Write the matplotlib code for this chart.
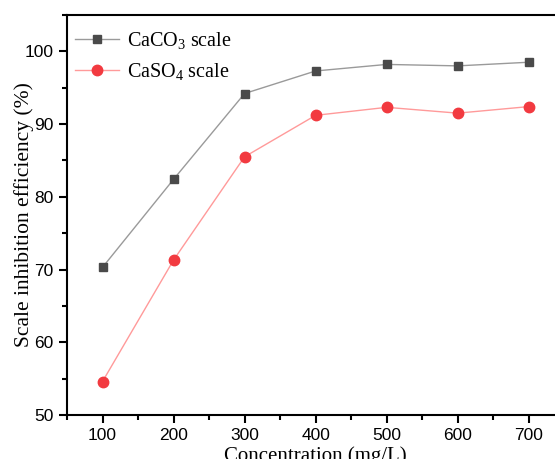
import matplotlib.pyplot as plt
from matplotlib.ticker import MultipleLocator

# dados
concentration = [100, 200, 300, 400, 500, 600, 700]
caco3 = [70.3, 82.4, 94.2, 97.3, 98.2, 98.0, 98.5]
caso4 = [54.6, 71.3, 85.5, 91.2, 92.3, 91.5, 92.4]

plt.rcParams['mathtext.fontset'] = 'custom'
plt.rcParams['mathtext.rm'] = 'Liberation Serif'
plt.rcParams['mathtext.it'] = 'Liberation Serif:italic'

fig = plt.figure(figsize=(5.55, 4.59), dpi=100)
ax = fig.add_axes([0.1207, 0.0959, 0.896, 0.8715])

ax.plot(concentration, caco3, color='#9a9a9a', linewidth=1,
        marker='s', markersize=6, markerfacecolor='#4a4a4a', markeredgecolor='#4a4a4a',
        label=r'CaCO$_\mathrm{3}$ scale')
ax.plot(concentration, caso4, color='#ff9a9a', linewidth=1,
        marker='o', markersize=7.5, markerfacecolor='#f23a40', markeredgecolor='#f23a40',
        label=r'CaSO$_\mathrm{4}$ scale')

ax.set_xlim(50, 750)
ax.set_ylim(50, 105)
ax.xaxis.set_major_locator(MultipleLocator(100))
ax.xaxis.set_minor_locator(MultipleLocator(50))
ax.yaxis.set_major_locator(MultipleLocator(10))
ax.yaxis.set_minor_locator(MultipleLocator(5))

for s in ax.spines.values():
    s.set_linewidth(1.5)
ax.tick_params(which='major', direction='out', length=6, width=1.5, labelsize=12.5)
ax.tick_params(which='minor', direction='out', length=3.5, width=1.5)
for lbl in ax.get_xticklabels() + ax.get_yticklabels():
    lbl.set_fontfamily('Liberation Sans')

ax.set_xlabel('Concentration (mg/L)', fontsize=15, family='Liberation Serif', labelpad=2)
ax.set_ylabel('Scale inhibition efficiency (%)', fontsize=15.5, family='Liberation Serif')
# rótulo Y mais perto do eixo, como no original
ax.yaxis.set_label_coords(-0.066, 0.5)

ax.legend(loc='upper left', bbox_to_anchor=(0.0, 0.982), frameon=False,
          prop={'family': 'Liberation Serif', 'size': 14.5},
          handlelength=2.2, handletextpad=0.4, borderaxespad=0.1, borderpad=0.3,
          labelspacing=0.5)

plt.savefig('out.png', dpi=100)
